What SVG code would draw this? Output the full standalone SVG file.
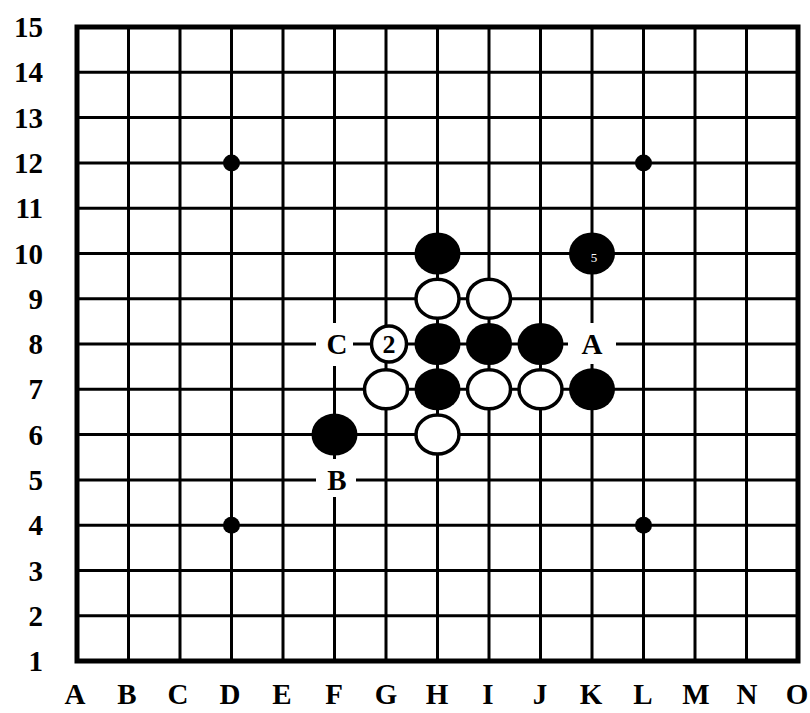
<svg xmlns="http://www.w3.org/2000/svg" width="810" height="713" viewBox="0 0 810 713">
<style>
.bg{fill:#fff}
.ln{stroke:#000;stroke-width:3;fill:none}
.bd{stroke:#000;stroke-width:5;fill:none}
.lbl{font-family:"Liberation Serif","Times New Roman",serif;font-weight:bold;font-size:29px;fill:#000}
.row{text-anchor:end}
.col{text-anchor:middle}
.blk{fill:#000}
.wht{fill:#fff;stroke:#000;stroke-width:3.5}
.mark{font-family:"Liberation Serif",serif;font-weight:bold;fill:#000;text-anchor:middle}
.star{fill:#000}
</style>
<rect class="bg" x="0" y="0" width="810" height="713"/>
<g id="connectors">
  <g id="verticals">
    <line class="ln" x1="128.5" y1="27" x2="128.5" y2="661"/>
    <line class="ln" x1="180" y1="27" x2="180" y2="661"/>
    <line class="ln" x1="231.5" y1="27" x2="231.5" y2="661"/>
    <line class="ln" x1="283" y1="27" x2="283" y2="661"/>
    <line class="ln" x1="334.5" y1="27" x2="334.5" y2="661"/>
    <line class="ln" x1="386" y1="27" x2="386" y2="661"/>
    <line class="ln" x1="437.5" y1="27" x2="437.5" y2="661"/>
    <line class="ln" x1="489" y1="27" x2="489" y2="661"/>
    <line class="ln" x1="540.5" y1="27" x2="540.5" y2="661"/>
    <line class="ln" x1="592" y1="27" x2="592" y2="661"/>
    <line class="ln" x1="643.5" y1="27" x2="643.5" y2="661"/>
    <line class="ln" x1="695" y1="27" x2="695" y2="661"/>
    <line class="ln" x1="746.5" y1="27" x2="746.5" y2="661"/>
  </g>
  <g id="horizontals">
    <line class="ln" x1="77" y1="72.3" x2="798" y2="72.3"/>
    <line class="ln" x1="77" y1="117.6" x2="798" y2="117.6"/>
    <line class="ln" x1="77" y1="162.9" x2="798" y2="162.9"/>
    <line class="ln" x1="77" y1="208.2" x2="798" y2="208.2"/>
    <line class="ln" x1="77" y1="253.5" x2="798" y2="253.5"/>
    <line class="ln" x1="77" y1="298.7" x2="798" y2="298.7"/>
    <line class="ln" x1="77" y1="344" x2="798" y2="344"/>
    <line class="ln" x1="77" y1="389.3" x2="798" y2="389.3"/>
    <line class="ln" x1="77" y1="434.6" x2="798" y2="434.6"/>
    <line class="ln" x1="77" y1="479.9" x2="798" y2="479.9"/>
    <line class="ln" x1="77" y1="525.2" x2="798" y2="525.2"/>
    <line class="ln" x1="77" y1="570.5" x2="798" y2="570.5"/>
    <line class="ln" x1="77" y1="615.8" x2="798" y2="615.8"/>
  </g>
  <rect id="border" class="bd" x="77" y="27" width="721" height="634"/>
</g>
<g id="stars">
  <circle class="star" cx="231.5" cy="162.9" r="8.5"/>
  <circle class="star" cx="643.5" cy="162.9" r="8.5"/>
  <circle class="star" cx="231.5" cy="525.2" r="8.5"/>
  <circle class="star" cx="643.5" cy="525.2" r="8.5"/>
</g>
<g id="row-labels" class="lbl row">
  <text x="43" y="37">15</text>
  <text x="43" y="82.3">14</text>
  <text x="43" y="127.6">13</text>
  <text x="43" y="172.9">12</text>
  <text x="43" y="218.2">11</text>
  <text x="43" y="263.5">10</text>
  <text x="43" y="308.7">9</text>
  <text x="43" y="354">8</text>
  <text x="43" y="399.3">7</text>
  <text x="43" y="444.6">6</text>
  <text x="43" y="489.9">5</text>
  <text x="43" y="535.2">4</text>
  <text x="43" y="580.5">3</text>
  <text x="43" y="625.8">2</text>
  <text x="43" y="671">1</text>
</g>
<g id="col-labels" class="lbl col">
  <text x="75" y="704">A</text>
  <text x="127" y="704">B</text>
  <text x="178" y="704">C</text>
  <text x="230" y="704">D</text>
  <text x="282" y="704">E</text>
  <text x="334" y="704">F</text>
  <text x="386" y="704">G</text>
  <text x="437" y="704">H</text>
  <text x="488" y="704">I</text>
  <text x="540" y="704">J</text>
  <text x="591" y="704">K</text>
  <text x="643" y="704">L</text>
  <text x="696" y="704">M</text>
  <text x="747" y="704">N</text>
  <text x="797" y="704">O</text>
</g>
<g id="point-C">
  <rect class="bg" x="316" y="323" width="37" height="43"/>
  <text class="lbl col" x="337" y="354">C</text>
</g>
<g id="point-A">
  <rect class="bg" x="568" y="323" width="48" height="41"/>
  <text class="lbl col" x="592" y="354">A</text>
</g>
<g id="point-B">
  <rect class="bg" x="316" y="459" width="40" height="38"/>
  <text class="lbl col" x="337" y="490">B</text>
</g>
<g id="stone-H10"><ellipse class="blk" cx="437.5" cy="253.5" rx="23" ry="21"/></g>
<g id="stone-K10"><ellipse class="blk" cx="592" cy="253.5" rx="23" ry="21"/><text x="594" y="262" style="font-family:'Liberation Serif',serif;font-size:13px;fill:#fff;text-anchor:middle">5</text></g>
<g id="stone-H9"><ellipse class="wht" cx="437.5" cy="298.7" rx="21.5" ry="19.5"/></g>
<g id="stone-I9"><ellipse class="wht" cx="489" cy="298.7" rx="21.5" ry="19.5"/></g>
<g id="stone-G8"><ellipse class="wht" cx="389" cy="344" rx="17.5" ry="18"/><text class="mark" x="389" y="353" font-size="26">2</text></g>
<g id="stone-H8"><ellipse class="blk" cx="437.5" cy="344" rx="23" ry="21"/></g>
<g id="stone-I8"><ellipse class="blk" cx="489" cy="344" rx="23" ry="21"/></g>
<g id="stone-J8"><ellipse class="blk" cx="540.5" cy="344" rx="23" ry="21"/></g>
<g id="stone-G7"><ellipse class="wht" cx="386" cy="389.3" rx="21.5" ry="19.5"/></g>
<g id="stone-H7"><ellipse class="blk" cx="437.5" cy="389.3" rx="23" ry="21"/></g>
<g id="stone-I7"><ellipse class="wht" cx="489" cy="389.3" rx="21.5" ry="19.5"/></g>
<g id="stone-J7"><ellipse class="wht" cx="540.5" cy="389.3" rx="21.5" ry="19.5"/></g>
<g id="stone-K7"><ellipse class="blk" cx="592" cy="389.3" rx="23" ry="21"/></g>
<g id="stone-F6"><ellipse class="blk" cx="334.5" cy="434.6" rx="23" ry="21"/></g>
<g id="stone-H6"><ellipse class="wht" cx="437.5" cy="434.6" rx="21.5" ry="19.5"/></g>
</svg>
